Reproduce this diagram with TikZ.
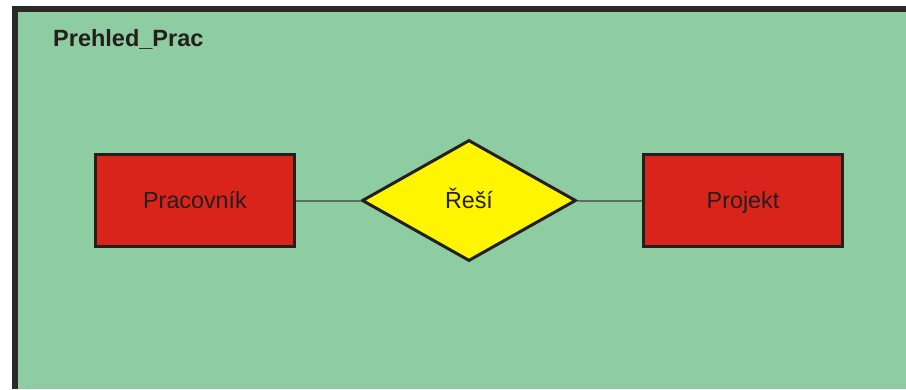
\documentclass[tikz,border=0pt]{standalone}
\usepackage{fontspec}
\setmainfont{Liberation Sans}
\usetikzlibrary{shapes.geometric}
\definecolor{areagreen}{HTML}{8ECCA2}
\definecolor{framedark}{HTML}{2B2926}
\definecolor{entityred}{HTML}{D9241C}
\definecolor{relyellow}{HTML}{FFF500}
\definecolor{inkdark}{HTML}{231F1C}
\definecolor{linkgrey}{HTML}{5C6E62}
\tikzset{
  labelfont/.style={font=\fontsize{23.3}{28}\selectfont, text=inkdark,
    text height=16.7pt, text depth=0pt, inner sep=0pt},
  entity/.style={labelfont, rectangle, draw=inkdark, fill=entityred,
    line width=3pt, minimum width=199pt, minimum height=92pt},
  relation/.style={labelfont, diamond, draw=inkdark, fill=relyellow,
    line width=3pt, line join=miter, minimum width=214pt, minimum height=121pt},
  link/.style={draw=linkgrey, line width=2pt},
  framestroke/.style={draw=framedark, line width=6pt}
}
\begin{document}
\begin{tikzpicture}[x=1pt, y=-1pt]
  \useasboundingbox (0,0) rectangle (906,389);
  % page and diagram area
  \fill[white] (0,0) rectangle (906,389);
  \fill[areagreen] (18,12) rectangle (906,389);
  \draw[framestroke] (15,389) -- (15,9) -- (906,9);
  % diagram title
  \node[anchor=base west, inner sep=0pt, text=inkdark,
        font=\bfseries\fontsize{23.5}{28}\selectfont] (title) at (53,46.7) {Prehled\_Prac};
  % entities and relationship
  \node[entity] (prac) at (195,200.5) {Pracovník};
  \node[entity] (proj) at (743,200.5) {Projekt};
  \node[relation] (resi) at (469,200.5) {Řeší};
  % links
  \draw[link] (prac.east) -- (resi.west);
  \draw[link] (resi.east) -- (proj.west);
\end{tikzpicture}
\end{document}
